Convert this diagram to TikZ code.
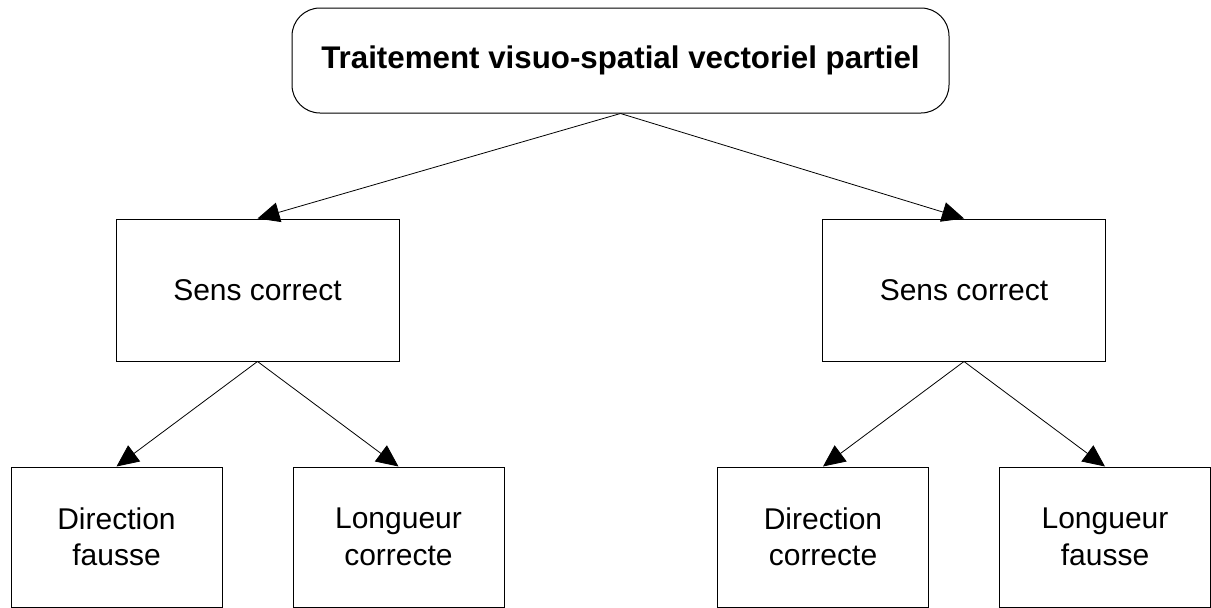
\documentclass[tikz,border=0pt]{standalone}
\usepackage{fontspec}
\setmainfont{Liberation Sans}
\usetikzlibrary{arrows.meta}
\begin{document}
\begin{tikzpicture}[x=1pt,y=-1pt,
  every node/.style={font=\fontsize{30}{36.5}\selectfont, inner sep=0pt, align=center},
  rootbox/.style={draw, line width=1pt, rounded corners=28pt, minimum width=657pt, minimum height=105pt,
                  font=\fontsize{31.3}{36}\selectfont\bfseries},
  midbox/.style={draw, line width=1pt, minimum width=283pt, minimum height=142pt},
  leafbox/.style={draw, line width=1pt, minimum width=211pt, minimum height=140pt},
  link/.style={line width=0.8pt, -{Triangle[length=22pt,width=20pt]}}
]
\useasboundingbox (0,0) rectangle (1211,608);

\node[rootbox] (root) at (620.5,60.5) {Traitement visuo-spatial vectoriel partiel};

\node[midbox] (senseL) at (257.5,290) {Sens correct};
\node[midbox] (senseR) at (964,290) {Sens correct};

\node[leafbox] (dirL) at (116.5,537) {Direction\\fausse};
\node[leafbox] (lenL) at (398.5,537) {Longueur\\correcte};
\node[leafbox] (dirR) at (823,537) {Direction\\correcte};
\node[leafbox] (lenR) at (1105,537) {Longueur\\fausse};

\draw[link] (root.south) -- (senseL.north);
\draw[link] (root.south) -- (senseR.north);
\draw[link] (senseL.south) -- (dirL.north);
\draw[link] (senseL.south) -- (lenL.north);
\draw[link] (senseR.south) -- (dirR.north);
\draw[link] (senseR.south) -- (lenR.north);
\end{tikzpicture}
\end{document}
